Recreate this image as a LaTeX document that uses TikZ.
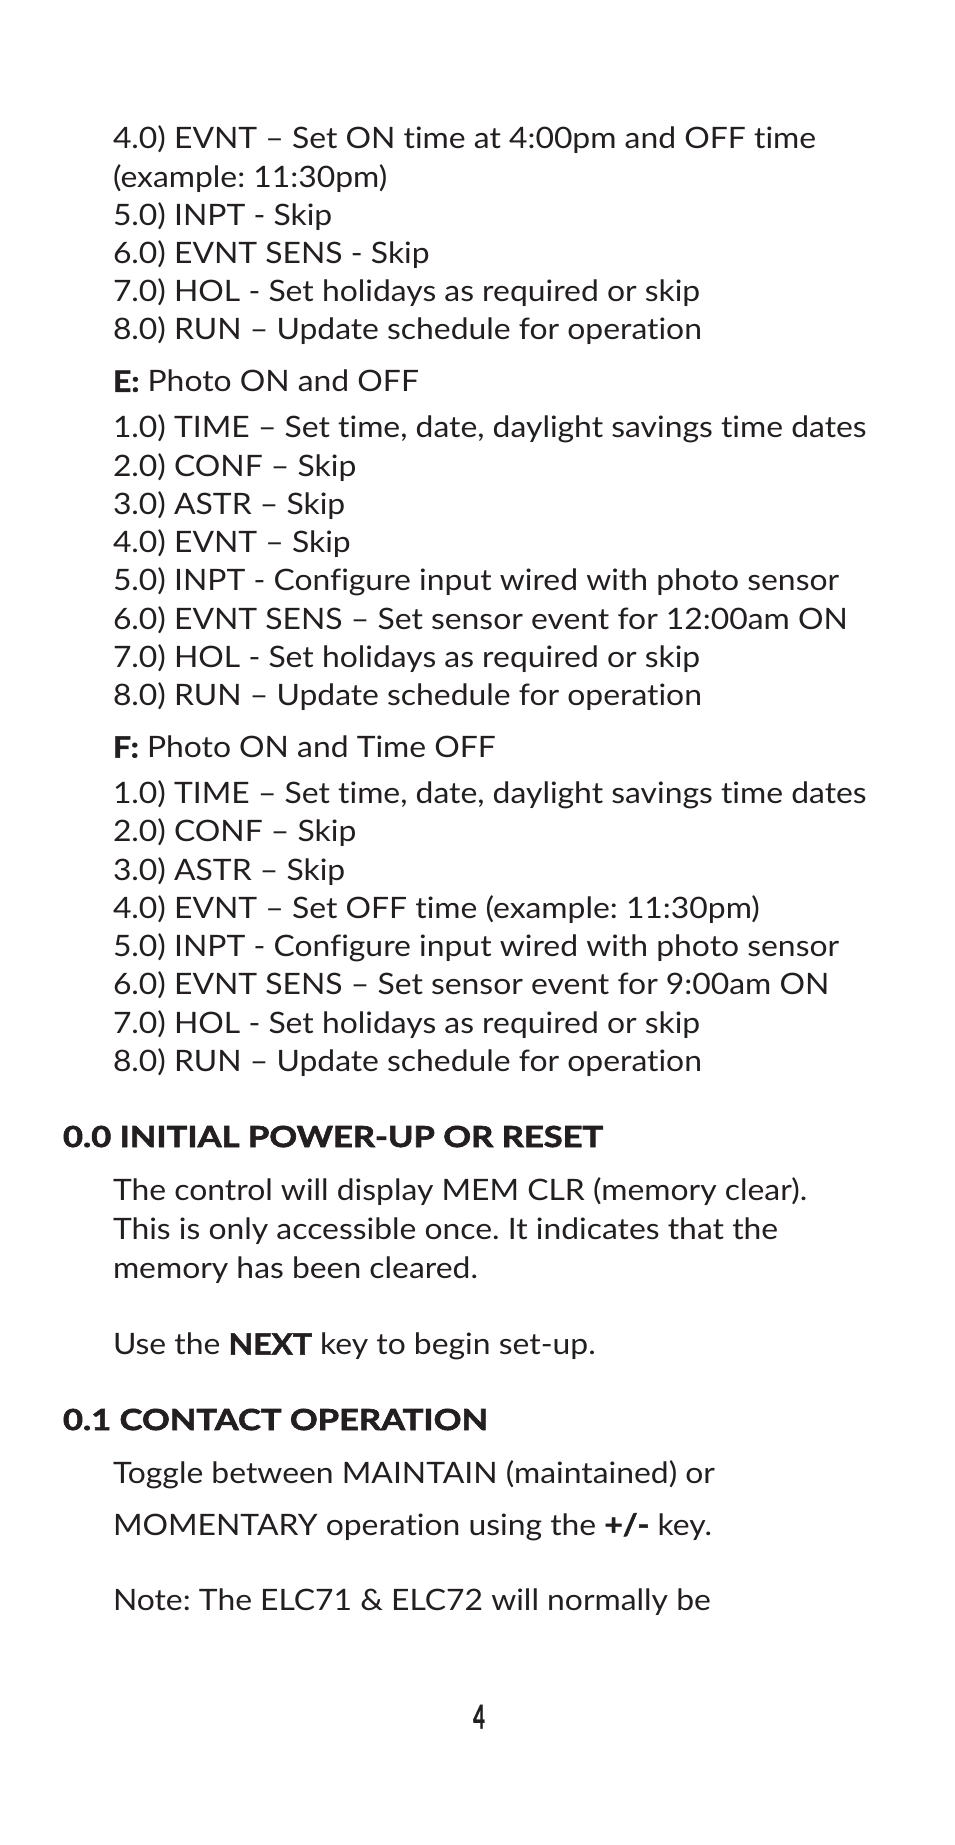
\documentclass[tikz,border=0pt]{standalone}
\usepackage{fontspec}
\setmainfont{Lato}[FakeStretch=1.08, Ligatures=NoCommon, BoldFeatures={FakeBold=1.5}]
\newfontfamily\headfont{Lato}[FakeStretch=1.19, Ligatures=NoCommon, BoldFeatures={FakeBold=2.2}]
\newfontfamily\pagefont{Lato}[FakeStretch=0.62, BoldFeatures={FakeBold=0.6}]
\frenchspacing
\definecolor{ink}{HTML}{231F20}
\begin{document}
\begin{tikzpicture}[x=1pt,y=-1pt,
  every node/.style={inner sep=0pt,outer sep=0pt,anchor=base west,text=ink},
  body/.style={font=\fontsize{29.5}{34}\selectfont},
  head/.style={font=\headfont\fontsize{29}{34}\selectfont\bfseries},
  pagenum/.style={anchor=base,font=\pagefont\fontsize{33}{34}\selectfont}]
\useasboundingbox (0,0) rectangle (954,1845);
% block D tail
\node[body] (d4)  at (113,148.7) {4.0) EVNT – Set ON time at 4:00pm and OFF time};
\node[body] (d4b) at (113,187.0) {(example: 11:30pm)};
\node[body] (d5)  at (113,225.2) {5.0) INPT - Skip};
\node[body] (d6)  at (113,263.4) {6.0) EVNT SENS - Skip};
\node[body] (d7)  at (113,301.7) {7.0) HOL - Set holidays as required or skip};
\node[body] (d8)  at (113,339.9) {8.0) RUN – Update schedule for operation};
% block E
\node[body] (eh)  at (113,391.8) {\textbf{E:} Photo ON and OFF};
\node[body] (e1)  at (113,437.8) {1.0) TIME – Set time, date, daylight savings time dates};
\node[body] (e2)  at (113,476.0) {2.0) CONF – Skip};
\node[body] (e3)  at (113,514.3) {3.0) ASTR – Skip};
\node[body] (e4)  at (113,552.5) {4.0) EVNT – Skip};
\node[body] (e5)  at (113,590.8) {5.0) INPT - Configure input wired with photo sensor};
\node[body] (e6)  at (113,629.0) {6.0) EVNT SENS – Set sensor event for 12:00am ON};
\node[body] (e7)  at (113,667.3) {7.0) HOL - Set holidays as required or skip};
\node[body] (e8)  at (113,705.6) {8.0) RUN – Update schedule for operation};
% block F
\node[body] (fh)  at (113,757.6) {\textbf{F:} Photo ON and Time OFF};
\node[body] (f1)  at (113,803.6) {1.0) TIME – Set time, date, daylight savings time dates};
\node[body] (f2)  at (113,841.8) {2.0) CONF – Skip};
\node[body] (f3)  at (113,880.1) {3.0) ASTR – Skip};
\node[body] (f4)  at (113,918.3) {4.0) EVNT – Set OFF time (example: 11:30pm)};
\node[body] (f5)  at (113,956.6) {5.0) INPT - Configure input wired with photo sensor};
\node[body] (f6)  at (113,994.8) {6.0) EVNT SENS – Set sensor event for 9:00am ON};
\node[body] (f7)  at (113,1033.1) {7.0) HOL - Set holidays as required or skip};
\node[body] (f8)  at (113,1071.4) {8.0) RUN – Update schedule for operation};
% section 0.0
\node[head] (h0)  at (63,1147) {0.0 INITIAL POWER-UP OR RESET};
\node[body] (p1)  at (113,1200) {The control will display MEM CLR (memory clear).};
\node[body] (p2)  at (113,1239) {This is only accessible once. It indicates that the};
\node[body] (p3)  at (113,1278) {memory has been cleared.};
\node[body] (p4)  at (113,1354.6) {Use the \textbf{NEXT} key to begin set-up.};
% section 0.1
\node[head] (h1)  at (63,1430) {0.1 CONTACT OPERATION};
\node[body] (q1)  at (113,1483) {Toggle between MAINTAIN (maintained) or};
\node[body] (q2)  at (113,1535) {MOMENTARY operation using the \textbf{+/-} key.};
\node[body] (q3)  at (113,1610.7) {Note: The ELC71 \& ELC72 will normally be};
% page number
\node[pagenum] (pg) at (479,1728.7) {\textbf{4}};
\end{tikzpicture}
\end{document}
